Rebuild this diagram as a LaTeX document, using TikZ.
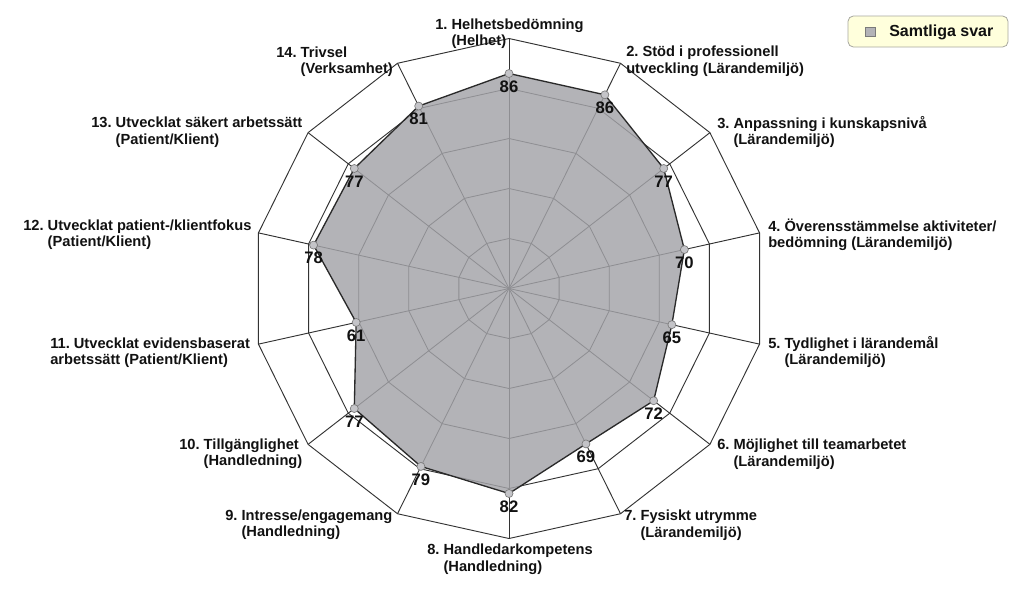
\documentclass[tikz,border=0pt]{standalone}
\usepackage{fontspec}
\setmainfont{Liberation Sans}
\usetikzlibrary{calc}
\frenchspacing
\definecolor{txt}{HTML}{111111}
\definecolor{gridin}{HTML}{8E8E92}
\definecolor{gridout}{HTML}{333333}
\definecolor{areafill}{HTML}{B3B3B7}
\definecolor{areaedge}{HTML}{2A2A2A}
\definecolor{markfill}{HTML}{C4C4C8}
\definecolor{markedge}{HTML}{7A7A7A}
\definecolor{legfill}{HTML}{FFFFDC}
\definecolor{legedge}{HTML}{A8A8A0}
\begin{document}
\begin{tikzpicture}[x=0.75pt,y=-0.75pt,
  gridline/.style={draw=gridout,line width=0.7pt},
  innergrid/.style={draw=gridin,line width=0.6pt},
  area/.style={fill=areafill},
  arealine/.style={draw=areaedge,line width=1pt,line join=round},
  marker/.style={circle,fill=markfill,draw=markedge,line width=0.5pt,minimum size=6pt,inner sep=0pt},
  val/.style={font=\fontsize{12.5}{13}\selectfont\bfseries,text=txt,inner sep=0pt},
  axlabel/.style={font=\fontsize{11}{12.4}\selectfont\bfseries,text=txt,align=left,inner sep=0pt,anchor=west},
  legendbox/.style={draw=legedge,fill=legfill,rounded corners=4pt,minimum width=120pt,minimum height=23.25pt,inner sep=0pt,line width=0.6pt},
  legendkey/.style={draw=markedge,fill=areafill,minimum width=7.5pt,minimum height=7pt,inner sep=0pt,line width=0.5pt},
]
\useasboundingbox (0,0) rectangle (1024,590);
\coordinate (c) at (509,288.5);
\foreach \k/\v in {1/86,2/86,3/77,4/70,5/65,6/72,7/69,8/82,9/79,10/77,11/61,12/78,13/77,14/81} {
  \pgfmathsetmacro\ang{90-(\k-1)*360/14}
  \foreach \r in {20,40,60,80,100}{
    \coordinate (g\r-\k) at ({509+2.57*\r*cos(\ang)},{288.5-2.5*\r*sin(\ang)});
  }
  \coordinate (d\k) at ({509+2.57*\v*cos(\ang)},{288.5-2.5*\v*sin(\ang)});
}
% grid
\foreach \k in {1,...,14} \draw[gridline] (c) -- (g100-\k);
\foreach \r in {20,40,60,80,100} \draw[gridline] (g\r-1) \foreach \k in {2,...,14}{-- (g\r-\k)} -- cycle;
% area
\fill[area] (d1) \foreach \k in {2,...,14}{-- (d\k)} -- cycle;
\begin{scope}
  \clip (d1) \foreach \k in {2,...,14}{-- (d\k)} -- cycle;
  \foreach \k in {1,...,14} \draw[innergrid] (c) -- (g100-\k);
  \foreach \r in {20,40,60,80} \draw[innergrid] (g\r-1) \foreach \k in {2,...,14}{-- (g\r-\k)} -- cycle;
\end{scope}
\draw[arealine] (d1) \foreach \k in {2,...,14}{-- (d\k)} -- cycle;
% markers and values
\foreach \k/\v in {1/86,2/86,3/77,4/70,5/65,6/72,7/69,8/82,9/79,10/77,11/61,12/78,13/77,14/81} {
  \node[marker] (m\k) at (d\k) {};
  \node[val] (v\k) at ($(d\k)+(0,13)$) {\v};
}
% axis labels
\node[axlabel] (l1) at (435,33.5) {1. Helhetsbedömning\\\phantom{1. }(Helhet)};
\node[axlabel] (l2) at (626,61.5) {2. Stöd i professionell\\utveckling (Lärandemiljö)};
\node[axlabel] (l3) at (717,132) {3. Anpassning i kunskapsnivå\\\phantom{3. }(Lärandemiljö)};
\node[axlabel] (l4) at (768,235) {4. Överensstämmelse aktiviteter/\\bedömning (Lärandemiljö)};
\node[axlabel] (l5) at (768,352) {5. Tydlighet i lärandemål\\\phantom{5. }(Lärandemiljö)};
\node[axlabel] (l6) at (717,454) {6. Möjlighet till teamarbetet\\\phantom{6. }(Lärandemiljö)};
\node[axlabel] (l7) at (624,525) {7. Fysiskt utrymme\\\phantom{7. }(Lärandemiljö)};
\node[axlabel] (l8) at (427,559) {8. Handledarkompetens\\\phantom{8. }(Handledning)};
\node[axlabel] (l9) at (225,524.5) {9. Intresse/engagemang\\\phantom{9. }(Handledning)};
\node[axlabel] (l10) at (179,453.5) {10. Tillgänglighet\\\phantom{10. }(Handledning)};
\node[axlabel] (l11) at (50,352.5) {11. Utvecklat evidensbaserat\\arbetssätt (Patient/Klient)};
\node[axlabel] (l12) at (23,234.5) {12. Utvecklat patient-/klientfokus\\\phantom{12. }(Patient/Klient)};
\node[axlabel] (l13) at (91,132) {13. Utvecklat säkert arbetssätt\\\phantom{13. }(Patient/Klient)};
\node[axlabel] (l14) at (276,61.5) {14. Trivsel\\\phantom{14. }(Verksamhet)};
% legend
\node[legendbox] (legend) at (928,31.5) {};
\node[legendkey] (legkey) at (870,31.5) {};
\node[font=\fontsize{12}{14}\selectfont\bfseries,text=txt,anchor=west,inner sep=0pt] (legtext) at (889,32) {Samtliga svar};
\end{tikzpicture}
\end{document}
